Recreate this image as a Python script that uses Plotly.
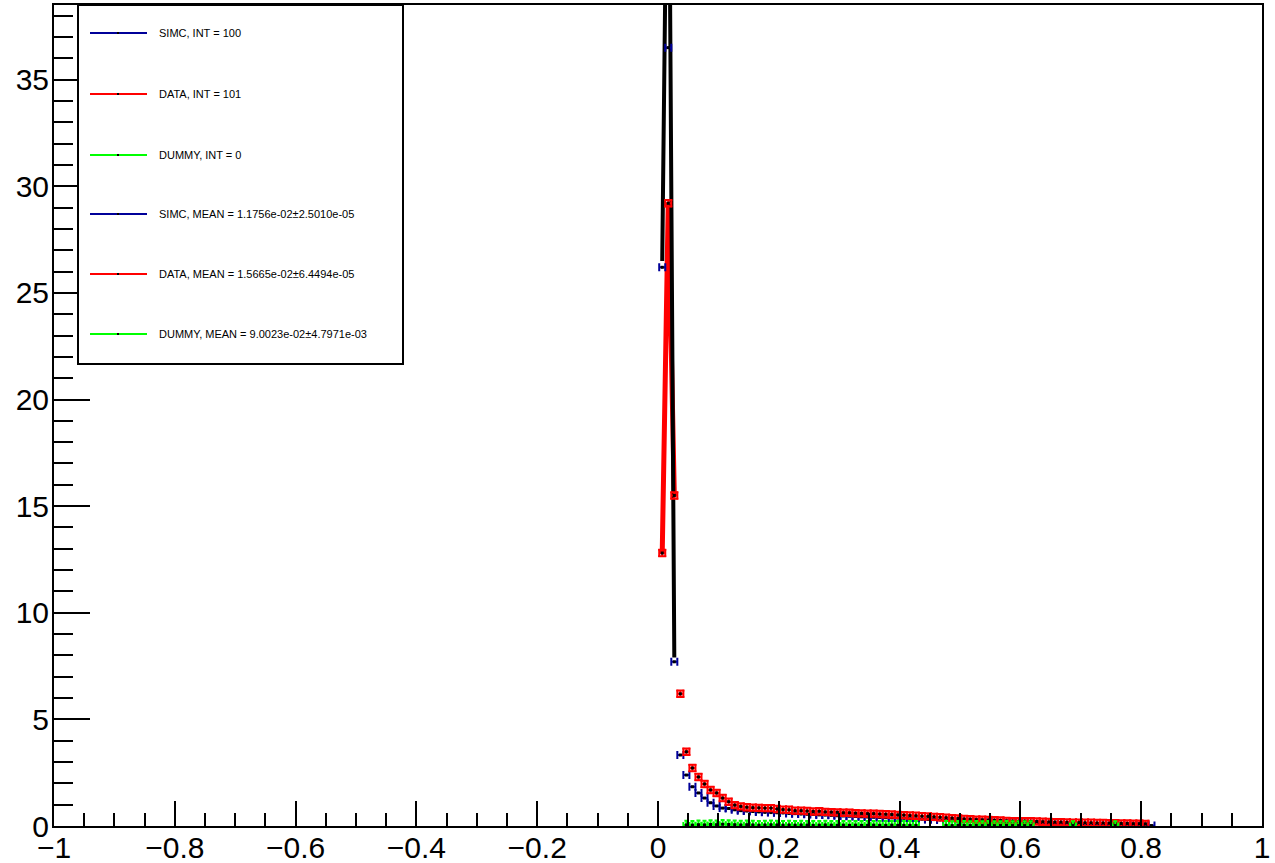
import plotly.graph_objects as go

# ── Data ─────────────────────────────────────────────────────────────────────
BIN_X = [round(0.007 + 0.01 * k, 3) for k in range(82)]  # bin centres

DATA_Y = [
    12.8, 29.2, 15.5, 6.2, 3.48, 2.72, 2.30, 1.97, 1.69, 1.55,
    1.31, 1.14, 0.98, 0.92, 0.88, 0.86, 0.85, 0.84, 0.84, 0.80,
    0.77, 0.76, 0.72, 0.72, 0.70, 0.68, 0.69, 0.66, 0.65, 0.64,
    0.62, 0.62, 0.60, 0.59, 0.58, 0.58, 0.56, 0.55, 0.54, 0.52,
    0.51, 0.49, 0.48, 0.46, 0.45, 0.43, 0.41, 0.39, 0.37, 0.35,
    0.33, 0.32, 0.30, 0.29, 0.28, 0.27, 0.26, 0.24, 0.23, 0.22,
    0.23, 0.22, 0.21, 0.20, 0.19, 0.18, 0.18, 0.17, 0.16, 0.16,
    0.15, 0.15, 0.14, 0.14, 0.13, 0.13, 0.12, 0.12, 0.11, 0.11, 0.10,
]

SIMC_Y = [
    26.2, 36.5, 7.7, 3.33, 2.39, 1.84, 1.55, 1.31, 1.09, 0.94,
    0.84, 0.82, 0.76, 0.72, 0.70, 0.68, 0.66, 0.64, 0.63, 0.62,
    0.61, 0.59, 0.58, 0.56, 0.55, 0.54, 0.52, 0.51, 0.50, 0.48,
    0.47, 0.46, 0.45, 0.43, 0.42, 0.41, 0.40, 0.39, 0.38, 0.37,
    0.36, 0.35, 0.34, 0.32, 0.31, 0.30, 0.28, 0.27, 0.26, 0.25,
    0.24, 0.22, 0.21, 0.20, 0.19, 0.18, 0.17, 0.16, 0.15, 0.14,
    0.13, 0.12, 0.12, 0.11, 0.10, 0.10, 0.09, 0.08, 0.08, 0.07,
    0.07, 0.06, 0.06, 0.05, 0.05, 0.05, 0.04, 0.04, 0.03, 0.03, 0.03, 0.02,
]

# dummy starts at bin 4; None = empty bin
DUMMY_Y = [
    None, None, None, None, 0.05, 0.04, 0.06, 0.05, 0.07, 0.06,
    0.08, 0.07, 0.06, 0.05, 0.06, 0.05, 0.04, 0.05, 0.06, 0.05,
    0.04, 0.05, 0.04, 0.05, 0.04, 0.03, 0.04, 0.05, 0.04, 0.03,
    0.04, 0.03, 0.04, 0.03, 0.03, 0.04, 0.03, 0.03, 0.04, 0.03,
    0.03, 0.03, 0.03, None, None, None, None, 0.03, 0.02, 0.03,
    0.03, 0.02, 0.03, 0.02, 0.03, 0.02, 0.02, 0.03, 0.02, 0.02,
    0.02, 0.02, None, None, None, None, None, None, 0.02, None,
    None, None, None, None, None, 0.02, None,
]

# peak outline (first three bins)
PEAK_X = BIN_X[:3]
PEAK_BLACK_Y = [26.5, 52.0, 7.9]
PEAK_RED_Y = DATA_Y[:3]

LEGEND_LABELS = [
    "SIMC, INT = 100",
    "DATA, INT = 101",
    "DUMMY, INT = 0",
    "SIMC, MEAN = 1.1756e-02±2.5010e-05",
    "DATA, MEAN = 1.5665e-02±6.4494e-05",
    "DUMMY, MEAN = 9.0023e-02±4.7971e-03",
]

BLUE, RED, GREEN = "#000099", "#ff0000", "#00ff00"
LEGEND_COLORS = [BLUE, RED, GREEN, BLUE, RED, GREEN]
FONT = "Liberation Sans, Arial, sans-serif"

fig = go.Figure()

# thick outlines around the peak
fig.add_trace(go.Scatter(x=PEAK_X, y=PEAK_RED_Y, mode="lines",
                         line=dict(color=RED, width=5), hoverinfo="skip"))
fig.add_trace(go.Scatter(x=PEAK_X, y=PEAK_BLACK_Y, mode="lines",
                         line=dict(color="black", width=4), hoverinfo="skip"))


def hist_points(y, color, ex_cap, ey=None, ey_cap=0):
    xs = BIN_X[:len(y)]
    err_y = dict(visible=False)
    if ey is not None:
        err_y = dict(type="constant", value=ey, color=color, thickness=2, width=ey_cap)
    return go.Scatter(
        x=xs, y=y, mode="markers",
        marker=dict(color="black", size=3, symbol="square"),
        error_x=dict(type="constant", value=0.005, color=color, thickness=2, width=ex_cap),
        error_y=err_y,
        hoverinfo="x+y",
    )


fig.add_trace(hist_points(SIMC_Y, BLUE, 4))
fig.add_trace(hist_points(DATA_Y, RED, 4, ey=0.15, ey_cap=4))
fig.add_trace(hist_points(DUMMY_Y, GREEN, 3, ey=0.2, ey_cap=2))

# ── ROOT-style legend box ────────────────────────────────────────────────────
PLOT_L, PLOT_R, PLOT_T, PLOT_B = 54, 1262, 5, 826


def px(x):
    return (x - PLOT_L) / (PLOT_R - PLOT_L)


def py(y):
    return (PLOT_B - y) / (PLOT_B - PLOT_T)


shapes = [dict(type="rect", xref="paper", yref="paper",
               x0=px(78), x1=px(403), y0=py(364), y1=py(5),
               line=dict(color="black", width=2), fillcolor="white", layer="above")]
annotations = []
entry_y = [33, 94, 155, 214, 274, 334]
for lab, col, yy in zip(LEGEND_LABELS, LEGEND_COLORS, entry_y):
    shapes.append(dict(type="line", xref="paper", yref="paper",
                       x0=px(90), x1=px(147), y0=py(yy), y1=py(yy),
                       line=dict(color=col, width=2), layer="above"))
    shapes.append(dict(type="rect", xref="paper", yref="paper",
                       xsizemode="pixel", ysizemode="pixel",
                       xanchor=px(118), yanchor=py(yy),
                       x0=-1, x1=1, y0=-1, y1=1,
                       line=dict(width=0), fillcolor="black", layer="above"))
    annotations.append(dict(xref="paper", yref="paper", x=px(157), y=py(yy),
                            text=lab, showarrow=False, xanchor="left", yanchor="middle",
                            font=dict(family=FONT, size=11, color="black")))

axis_common = dict(
    showline=True, linecolor="black", linewidth=2, mirror=True, automargin=False,
    showgrid=False, zeroline=False, ticks="inside", tickcolor="black", tickwidth=2,
    tickfont=dict(family=FONT, size=30, color="black"),
)

fig.update_layout(
    width=1275, height=863,
    margin=dict(l=PLOT_L, r=1275 - PLOT_R, t=PLOT_T, b=863 - PLOT_B),
    plot_bgcolor="white", paper_bgcolor="white",
    showlegend=False,
    xaxis=dict(range=[-1, 1], tick0=-1, dtick=0.2, ticklen=25, ticklabelstandoff=-6,
               minor=dict(dtick=0.05, tick0=-1, ticks="inside", ticklen=13,
                          tickwidth=2, tickcolor="black", showgrid=False),
               **axis_common),
    yaxis=dict(range=[0, 38.5], tick0=0, dtick=5, ticklen=36, ticklabelstandoff=-3,
               minor=dict(dtick=1, tick0=0, ticks="inside", ticklen=19,
                          tickwidth=2, tickcolor="black", showgrid=False),
               **axis_common),
    shapes=shapes,
    annotations=annotations,
)

fig.write_html("out.html", config={"displayModeBar": False},
               post_script="document.body.style.margin='0';")
